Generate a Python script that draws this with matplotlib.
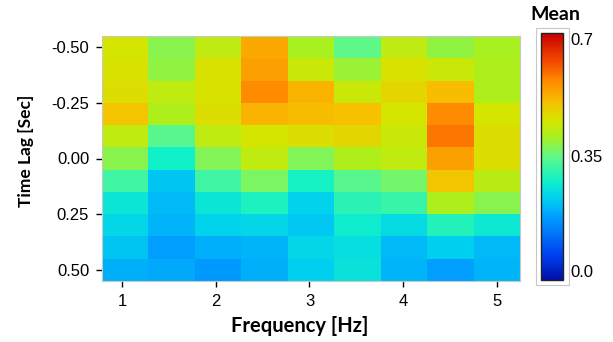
import numpy as np
import matplotlib
matplotlib.use("Agg")
import matplotlib.pyplot as plt
from matplotlib.colors import LinearSegmentedColormap
from matplotlib.patches import Rectangle

plt.rcParams['font.family'] = ['Liberation Sans', 'DejaVu Sans']
LABEL_FONT = ['Lato', 'DejaVu Sans']

# ================= data =================
freq_edges = np.linspace(0.78, 5.25, 10)          # 9 frequency bins
lag_centers = [-0.5, -0.4, -0.3, -0.2, -0.1, 0.0, 0.1, 0.2, 0.3, 0.4, 0.5]

mean_rows = [
    [0.450, 0.382, 0.428, 0.529, 0.405, 0.349, 0.428, 0.388, 0.405],
    [0.456, 0.388, 0.456, 0.541, 0.439, 0.394, 0.456, 0.439, 0.411],
    [0.462, 0.428, 0.456, 0.563, 0.518, 0.439, 0.473, 0.507, 0.411],
    [0.496, 0.411, 0.462, 0.518, 0.507, 0.501, 0.450, 0.563, 0.450],
    [0.428, 0.343, 0.428, 0.450, 0.462, 0.473, 0.439, 0.580, 0.462],
    [0.382, 0.281, 0.377, 0.428, 0.377, 0.411, 0.428, 0.541, 0.462],
    [0.320, 0.219, 0.320, 0.371, 0.287, 0.343, 0.366, 0.496, 0.422],
    [0.264, 0.207, 0.264, 0.292, 0.236, 0.303, 0.315, 0.411, 0.382],
    [0.241, 0.202, 0.236, 0.241, 0.224, 0.275, 0.247, 0.298, 0.270],
    [0.219, 0.179, 0.196, 0.202, 0.241, 0.253, 0.207, 0.230, 0.207],
    [0.196, 0.190, 0.174, 0.196, 0.230, 0.258, 0.202, 0.179, 0.202],
]

x_ticks = [1, 2, 3, 4, 5]
y_ticks = [-0.5, -0.25, 0.0, 0.25, 0.5]
cbar_ticks = [0.0, 0.35, 0.7]

# jet-like colour scale
cmap_stops = [0.0, 0.1, 0.256, 0.33, 0.401, 0.5, 0.579, 0.643, 0.72, 0.804, 0.9, 1.0]
cmap_colors = ['#0010a8', '#0040f0', '#00a0ff', '#00d0f0', '#10f0c8', '#60f888',
               '#a8f020', '#d4e600', '#f8c000', '#ff8c00', '#f04000', '#c80000']
cmap = LinearSegmentedColormap.from_list('ref_jet', list(zip(cmap_stops, cmap_colors)))

# ================= plot =================
fig = plt.figure(figsize=(6.13, 3.42), dpi=100)
ax = fig.add_axes([101.7 / 613, 1 - 281 / 342, (520 - 101.7) / 613, (281 - 36) / 342])

lag_edges = np.append(np.array(lag_centers) - 0.05, lag_centers[-1] + 0.05)
mesh = ax.pcolormesh(freq_edges, lag_edges, np.array(mean_rows),
                     cmap=cmap, vmin=0.0, vmax=0.7, shading='flat')
ax.set_xlim(freq_edges[0], freq_edges[-1])
ax.set_ylim(lag_edges[-1], lag_edges[0])

ax.set_xticks(x_ticks)
ax.set_yticks(y_ticks)
ax.set_yticklabels([f"{v:.2f}" for v in y_ticks])
ax.tick_params(axis='both', labelsize=12, length=4, width=1, direction='out', color='black')
ax.tick_params(axis='x', pad=5)
ax.tick_params(axis='y', pad=5)
for s in ax.spines.values():
    s.set_color('#c8c8c8')
    s.set_linewidth(0.8)

ax.set_xlabel("Frequency [Hz]", fontsize=14.5, fontweight='bold', family=LABEL_FONT)
ax.set_ylabel("Time Lag [Sec]", fontsize=12.5, fontweight='bold', family=LABEL_FONT)
ax.xaxis.set_label_coords(0.473, -0.143)
ax.yaxis.set_label_coords(-0.162, 0.531)

# colorbar
cax = fig.add_axes([540.7 / 613, 1 - 280 / 342, (563.3 - 540.7) / 613, (280 - 33) / 342])
cb = fig.colorbar(mesh, cax=cax)
cb.set_ticks(cbar_ticks)
cb.set_ticklabels(["0.0", "0.35", "0.7"])
cb.outline.set_edgecolor('#222222')
cb.outline.set_linewidth(1.0)
cax.tick_params(length=0, labelsize=12, pad=5)
labels = cax.get_yticklabels()
labels[0].set_va('bottom')
labels[-1].set_va('top')

fig.patches.append(Rectangle((536 / 613, 1 - 285 / 342), (569 - 536) / 613, (285 - 28) / 342,
                             transform=fig.transFigure, fill=False,
                             edgecolor='#c8c8c8', linewidth=0.8))
fig.text(555 / 613, 1 - 15 / 342, "Mean", ha='center', va='center',
         fontsize=14, fontweight='bold', family=LABEL_FONT)

fig.savefig("out.png", dpi=100, facecolor='white')
